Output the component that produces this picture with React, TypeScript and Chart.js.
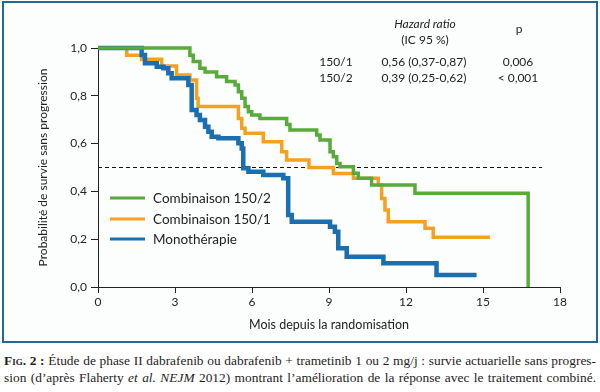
import React, { useEffect, useRef } from 'react';
import { Chart, registerables } from 'chart.js';

Chart.register(...registerables);

// ---- Data ----
const monthTicks = [0, 3, 6, 9, 12, 15, 18];
const probTicks = [0, 0.2, 0.4, 0.6, 0.8, 1.0];

const combo2Months = [0, 3.58, 3.71, 3.97, 4.17, 4.62, 5.01, 5.34, 5.47, 5.6, 5.73, 5.86, 5.99, 6.31, 7.35, 7.48, 8.52, 8.65, 9.04, 9.17, 9.3, 9.43, 9.95, 10.14, 10.66, 12.35, 16.76];
const combo2Surv = [1, 0.97, 0.943, 0.915, 0.9, 0.88, 0.86, 0.845, 0.817, 0.79, 0.755, 0.733, 0.72, 0.705, 0.68, 0.657, 0.636, 0.615, 0.566, 0.545, 0.517, 0.503, 0.476, 0.455, 0.427, 0.392, 0];

const combo1Months = [0, 1.12, 1.7, 2.48, 3.06, 3.58, 3.84, 3.9, 5.47, 5.6, 5.73, 6.44, 7.16, 7.35, 8.22, 9.17, 9.95, 10.92, 11.05, 11.18, 11.31, 12.74, 13.06, 15.27];
const combo1Surv = [1, 0.97, 0.953, 0.925, 0.887, 0.866, 0.79, 0.755, 0.705, 0.664, 0.643, 0.608, 0.566, 0.531, 0.5, 0.475, 0.455, 0.427, 0.37, 0.322, 0.273, 0.246, 0.208, 0.208];

const monoMonths = [0, 1.7, 1.83, 2.29, 2.55, 2.74, 2.87, 3.52, 3.65, 3.84, 3.97, 4.17, 4.3, 4.43, 4.69, 5.47, 5.6, 5.66, 5.86, 6.44, 7.22, 7.41, 7.55, 9.04, 9.23, 9.36, 9.69, 11.12, 13.19, 14.75];
const monoSurv = [1, 0.971, 0.936, 0.922, 0.915, 0.894, 0.873, 0.845, 0.741, 0.72, 0.699, 0.671, 0.65, 0.629, 0.622, 0.601, 0.58, 0.497, 0.482, 0.469, 0.455, 0.301, 0.273, 0.252, 0.231, 0.162, 0.127, 0.099, 0.05, 0.05];

const medianMonths = [0, 17.3];
const medianSurv = [0.5, 0.5];

const seriesLabels = ['Combinaison 150/2', 'Combinaison 150/1', 'Monothérapie'];
const seriesColors = ['#58aa3b', '#f3a11f', '#1b6fae'];

const hrHeader = 'Hazard ratio';
const hrSubHeader = '(IC 95 %)';
const pHeader = 'p';
const hrRows = ['150/1', '150/2'];
const hrValues = ['0,56 (0,37-0,87)', '0,39 (0,25-0,62)'];
const pValues = ['0,006', '< 0,001'];

const xTitle = 'Mois depuis la randomisation';
const yTitle = 'Probabilité de survie sans progression';

const zip = (xs: number[], ys: number[]) => xs.map((x, i) => ({ x, y: ys[i] }));

const TEXT = '#222';

const legendPlugin = {
  id: 'kmLegend',
  afterDraw(chart: any) {
    const { ctx } = chart;
    ctx.save();
    const rows = [198, 219, 239];
    ctx.font = '13.5px Lato';
    ctx.textBaseline = 'middle';
    ctx.textAlign = 'left';
    seriesLabels.forEach((lab, i) => {
      ctx.strokeStyle = seriesColors[i];
      ctx.lineWidth = 3;
      ctx.beginPath();
      ctx.moveTo(110, rows[i]);
      ctx.lineTo(145, rows[i]);
      ctx.stroke();
      ctx.fillStyle = TEXT;
      ctx.fillText(lab, 153, rows[i] + 0.5);
    });
    ctx.restore();
  },
};

function KMChart() {
  const ref = useRef<HTMLCanvasElement | null>(null);
  useEffect(() => {
    if (!ref.current) return;
    Chart.defaults.font.family = 'Lato';
    const chart = new Chart(ref.current, {
      type: 'line',
      data: {
        datasets: [
          {
            label: seriesLabels[0],
            data: zip(combo2Months, combo2Surv),
            borderColor: seriesColors[0],
            borderWidth: 3.5,
            stepped: 'before',
            pointRadius: 0,
            order: 0,
            clip: false,
          },
          {
            label: seriesLabels[1],
            data: zip(combo1Months, combo1Surv),
            borderColor: seriesColors[1],
            borderWidth: 3.5,
            stepped: 'before',
            pointRadius: 0,
            order: 2,
            clip: false,
          },
          {
            label: seriesLabels[2],
            data: zip(monoMonths, monoSurv),
            borderColor: seriesColors[2],
            borderWidth: 4.5,
            stepped: 'before',
            pointRadius: 0,
            order: 1,
            clip: false,
          },
          {
            label: 'median',
            data: zip(medianMonths, medianSurv),
            borderColor: '#111',
            borderWidth: 1,
            borderDash: [4, 3],
            pointRadius: 0,
            order: 3,
          },
        ] as any,
      },
      options: {
        animation: false,
        responsive: false,
        maintainAspectRatio: false,
        layout: { padding: { left: 0, right: 40, top: 48, bottom: 0 } },
        plugins: { legend: { display: false }, tooltip: { enabled: false } },
        scales: {
          x: {
            type: 'linear',
            min: 0,
            max: 18,
            afterBuildTicks: (s: any) => {
              s.ticks = monthTicks.map((v) => ({ value: v }));
            },
            afterFit: (s: any) => {
              s.height = 58;
            },
            ticks: { color: TEXT, font: { size: 12 }, padding: 2, maxRotation: 0 },
            grid: { drawOnChartArea: false, drawTicks: true, tickLength: 6, color: TEXT },
            border: { display: true, color: TEXT, width: 1 },
            title: { display: true, text: xTitle, color: TEXT, font: { size: 12.5 }, padding: { top: 0, bottom: 13 } },
          },
          y: {
            type: 'linear',
            min: 0,
            max: 1,
            afterBuildTicks: (s: any) => {
              s.ticks = probTicks.map((v) => ({ value: v }));
            },
            afterFit: (s: any) => {
              s.width = 98;
            },
            ticks: {
              color: TEXT,
              font: { size: 12 },
              padding: 4,
              callback: (v: any) => Number(v).toFixed(1).replace('.', ','),
            },
            grid: { drawOnChartArea: false, drawTicks: true, tickLength: 7, color: TEXT },
            border: { display: true, color: TEXT, width: 1 },
            title: { display: true, text: yTitle, color: TEXT, font: { size: 12 }, padding: { top: 36, bottom: 0 } },
          },
        },
      } as any,
      plugins: [legendPlugin],
    });
    return () => chart.destroy();
  }, []);
  return <canvas ref={ref} width={600} height={345} style={{ position: 'absolute', left: 0, top: 0, width: 600, height: 345 }} />;
}

const centered = (x: number, y: number, extra: React.CSSProperties = {}): React.CSSProperties => ({
  position: 'absolute',
  left: x,
  top: y,
  transform: 'translate(-50%, -50%)',
  whiteSpace: 'nowrap',
  fontFamily: 'Lato',
  fontSize: 12,
  color: TEXT,
  lineHeight: '14px',
  ...extra,
});

export default function App() {
  const captionLine: React.CSSProperties = {
    position: 'absolute',
    left: 4,
    width: 592,
    fontFamily: '"Liberation Serif", serif',
    fontSize: 13.4,
    lineHeight: '17px',
    color: '#1d1d1b',
    textAlign: 'justify',
    textAlignLast: 'justify' as any,
    whiteSpace: 'nowrap',
  };
  return (
    <div style={{ position: 'absolute', left: 0, top: 0, width: 600, height: 392, background: '#fff', overflow: 'hidden' }}>
      <div style={{ position: 'absolute', left: 2, top: 1, width: 592, height: 338, border: '2px solid #236a90', background: '#fcfdfd' }} />
      <KMChart />
      <div style={centered(425, 24, { fontStyle: 'italic' })}>{hrHeader}</div>
      <div style={centered(425, 40)}>{hrSubHeader}</div>
      <div style={centered(519, 29)}>{pHeader}</div>
      {hrRows.map((r, i) => (
        <React.Fragment key={r}>
          <div style={centered(336, 61.5 + i * 16)}>{r}</div>
          <div style={centered(424, 61.5 + i * 16)}>{hrValues[i]}</div>
          <div style={centered(518, 61.5 + i * 16)}>{pValues[i]}</div>
        </React.Fragment>
      ))}
      <div style={{ ...captionLine, top: 352 }}>
        <span style={{ fontWeight: 'bold', fontVariant: 'small-caps' }}>Fig. 2 :</span> Étude de phase II dabrafenib ou dabrafenib + trametinib 1 ou 2 mg/j : survie actuarielle sans progres-
      </div>
      <div style={{ ...captionLine, top: 369 }}>
        sion (d’après Flaherty <i>et al.</i> <i>NEJM</i> 2012) montrant l’amélioration de la réponse avec le traitement combiné.
      </div>
    </div>
  );
}
